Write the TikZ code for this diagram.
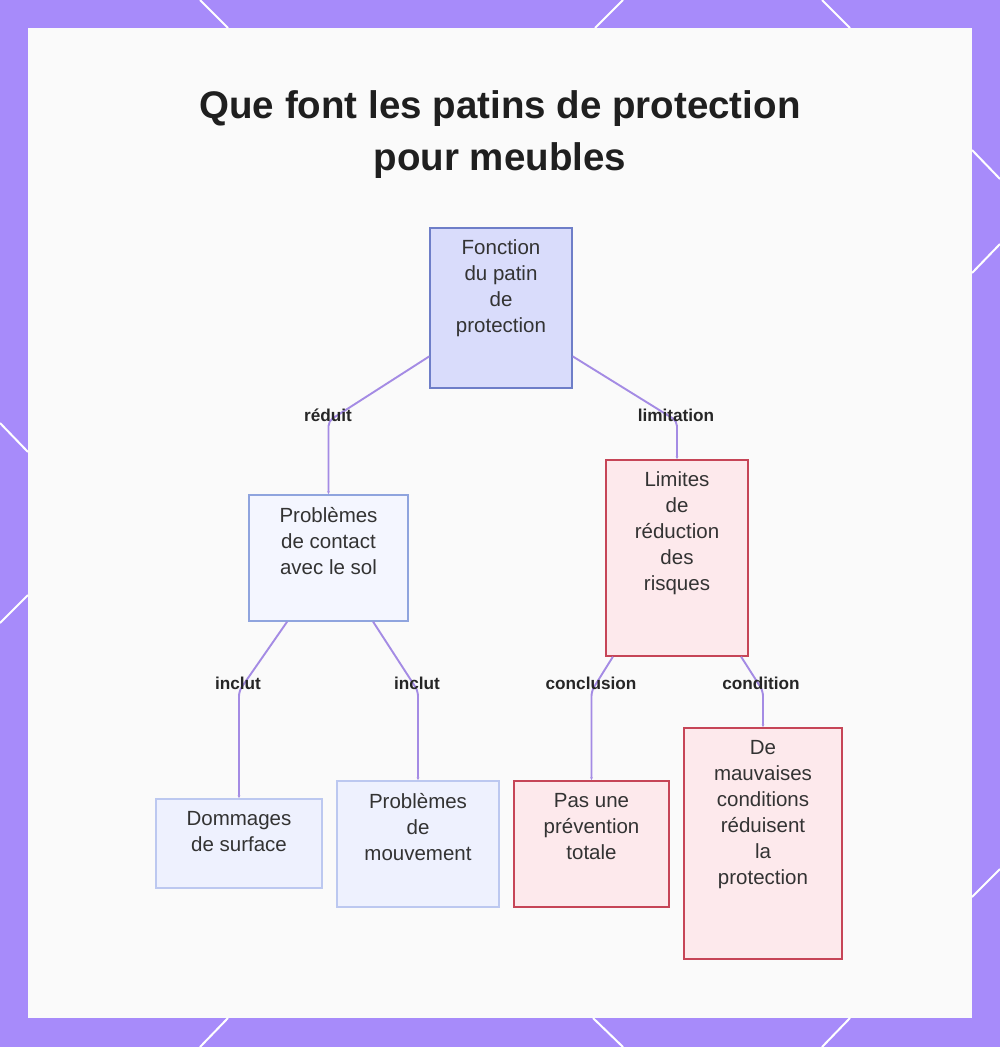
\documentclass[tikz,border=0pt]{standalone}
\usepackage{fontspec}
\setmainfont{Liberation Sans}
\usetikzlibrary{arrows.meta,positioning}

\definecolor{framepurple}{HTML}{A78BFA}
\definecolor{paper}{HTML}{FAFAFA}
\definecolor{rootfill}{HTML}{D9DCFB}
\definecolor{rootline}{HTML}{6E7EC8}
\definecolor{issuefill}{HTML}{F4F6FF}
\definecolor{issueline}{HTML}{8FA4DE}
\definecolor{leaffill}{HTML}{EEF1FE}
\definecolor{leafline}{HTML}{BCC8F0}
\definecolor{limitfill}{HTML}{FDE9EC}
\definecolor{limitline}{HTML}{C64557}
\definecolor{linkpurple}{HTML}{A48BE4}
\definecolor{inkgray}{HTML}{333333}

\begin{document}
\begin{tikzpicture}[
  x=1pt,
  y=-1pt,
  >={Latex[length=3pt,width=3pt]},
  conceptbox/.style={
    draw,
    line width=1.4pt,
    inner sep=0pt
  },
  rootbox/.style={conceptbox, fill=rootfill, draw=rootline},
  issuebox/.style={conceptbox, fill=issuefill, draw=issueline},
  leafbox/.style={conceptbox, fill=leaffill, draw=leafline},
  limitbox/.style={conceptbox, fill=limitfill, draw=limitline},
  boxtext/.style={
    anchor=north,
    align=center,
    inner sep=0pt,
    text=inkgray,
    font=\fontsize{20.5}{26}\selectfont
  },
  link/.style={->, draw=linkpurple, line width=1.9pt, rounded corners=5pt},
  linklabel/.style={font=\fontsize{17.2}{20}\selectfont\bfseries, text=black!85, inner sep=0pt},
  titletext/.style={anchor=north, align=center, inner sep=0pt, text=black!88,
    font=\fontsize{38.5}{52}\selectfont\bfseries},
  framecut/.style={draw=white, line width=2pt}
]
  \useasboundingbox (0,0) rectangle (1000,1047);

  % frame
  \fill[framepurple] (0,0) rectangle (1000,1047);
  \fill[paper] (28,28) rectangle (972,1018);
  \draw[framecut] (200,0) -- (228,28);
  \draw[framecut] (623,0) -- (595,28);
  \draw[framecut] (822,0) -- (850,28);
  \draw[framecut] (228,1018) -- (200,1047);
  \draw[framecut] (593,1018) -- (623,1047);
  \draw[framecut] (850,1018) -- (822,1047);
  \draw[framecut] (0,423) -- (28,452);
  \draw[framecut] (28,595) -- (0,623);
  \draw[framecut] (972,150) -- (1000,179);
  \draw[framecut] (972,273) -- (1000,244);
  \draw[framecut] (972,897) -- (1000,869);

  \node[titletext] (title) at (500,90)
    {Que font les patins de protection\\pour meubles};

  % boxes
  \node[rootbox, minimum width=142pt, minimum height=160pt] (root) at (501,308) {};
  \node[issuebox, minimum width=159pt, minimum height=126pt] (contact) at (328.5,558) {};
  \node[limitbox, minimum width=142pt, minimum height=196pt] (limits) at (677,558) {};
  \node[leafbox, minimum width=166pt, minimum height=89pt] (damage) at (239,843.5) {};
  \node[leafbox, minimum width=162pt, minimum height=126pt] (motion) at (418,844) {};
  \node[limitbox, minimum width=155pt, minimum height=126pt] (partial) at (591.5,844) {};
  \node[limitbox, minimum width=158pt, minimum height=231pt] (badcond) at (763,843.5) {};

  \node[boxtext] (roottxt) at ([yshift=-12.5pt]root.north)
    {Fonction\\du patin\\de\\protection};
  \node[boxtext] (contacttxt) at ([yshift=-12.5pt]contact.north)
    {Problèmes\\de contact\\avec le sol};
  \node[boxtext] (limitstxt) at ([yshift=-12.5pt]limits.north)
    {Limites\\de\\réduction\\des\\risques};
  \node[boxtext] (damagetxt) at ([yshift=-12.5pt]damage.north)
    {Dommages\\de surface};
  \node[boxtext] (motiontxt) at ([yshift=-12.5pt]motion.north)
    {Problèmes\\de\\mouvement};
  \node[boxtext] (partialtxt) at ([yshift=-12.5pt]partial.north)
    {Pas une\\prévention\\totale};
  \node[boxtext] (badcondtxt) at ([yshift=-12.5pt]badcond.north)
    {De\\mauvaises\\conditions\\réduisent\\la\\protection};

  % bends and labels
  \coordinate (breduit) at (328.5,421);
  \coordinate (blimit) at (677,421);
  \coordinate (bincl1) at (239,691);
  \coordinate (bincl2) at (418,691);
  \coordinate (bconcl) at (591.5,691);
  \coordinate (bcond) at (763,691);

  \draw[link] (root.214) -- (breduit) -- (contact.north);
  \draw[link] (root.326) -- (blimit) -- (limits.north);
  \draw[link] (contact.237) -- (bincl1) -- (damage.north);
  \draw[link] (contact.305) -- (bincl2) -- (motion.north);
  \draw[link] (limits.237) -- (bconcl) -- (partial.north);
  \draw[link] (limits.303) -- (bcond) -- (badcond.north);

  \node[linklabel] (lreduit) at (328,415) {réduit};
  \node[linklabel] (llimit) at (676,415) {limitation};
  \node[linklabel] (lincl1) at (238,683) {inclut};
  \node[linklabel] (lincl2) at (417,683) {inclut};
  \node[linklabel] (lconcl) at (591,683) {conclusion};
  \node[linklabel] (lcond) at (761,683) {condition};
\end{tikzpicture}
\end{document}
